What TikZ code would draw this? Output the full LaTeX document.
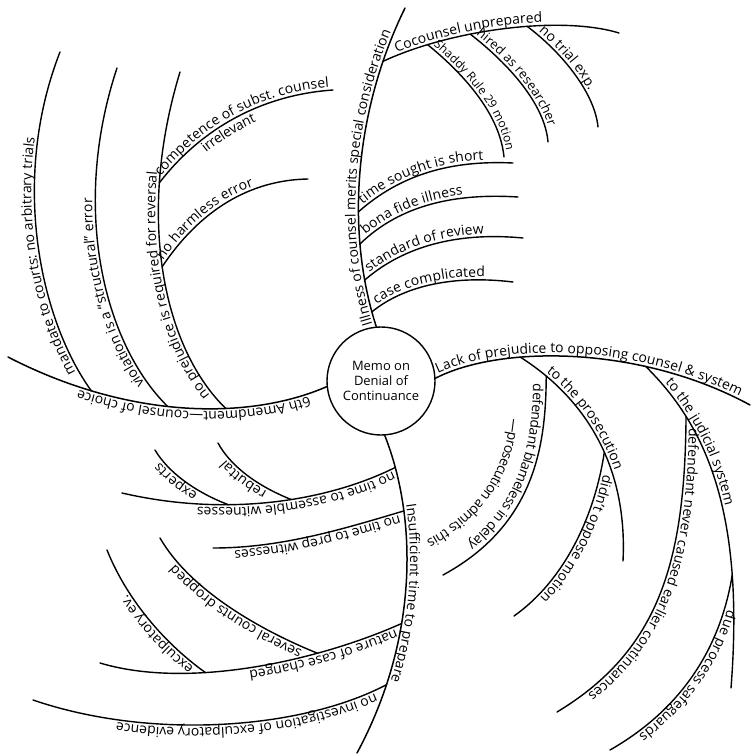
\documentclass[tikz,border=0pt]{standalone}
\usepackage{fontspec}
\setmainfont{Open Sans}
\usetikzlibrary{decorations.text}

\tikzset{
  limb/.style={line width=1.5bp, line cap=round},
  twig/.style={line width=1.4bp, line cap=round},
  say/.style={postaction={decorate, decoration={text along path, text={#1}}}},
  lift/.style={decoration={raise=#1}},
  lead/.style={decoration={text align={left indent=#1}}},
}

\begin{document}
\begin{tikzpicture}[x=1bp, y=-1bp, decoration={raise=3pt}]
\fontsize{14}{16}\selectfont
\useasboundingbox (0,0) rectangle (752,756);

% centre
\node[circle, draw, line width=1.4bp, minimum size=108bp, inner sep=0pt, align=center, font=\fontsize{13}{15}\selectfont] (memo) at (381,381) {Memo on\\Denial of\\Continuance};

% illness of counsel
\draw[limb, lead=3pt, say={Illness of counsel merits special consideration}]
  (memo.95) .. controls (345,230) and (355,110) .. (405,8)
  coordinate[pos=.05] (ill-case) coordinate[pos=.155] (ill-std)
  coordinate[pos=.27] (ill-bona) coordinate[pos=.37] (ill-time)
  coordinate[pos=.83] (ill-co);
\draw[twig, lead=16pt, say={Cocounsel unprepared}]
  (ill-co) .. controls (450,30) and (560,15) .. (619,33)
  coordinate[pos=.2] (co-shad) coordinate[pos=.37] (co-hire) coordinate[pos=.59] (co-exp);
\draw[twig, lead=5pt, say={|\fontsize{12}{14}\selectfont|Shaddy Rule 29 motion}] (co-shad) .. controls (465,75) and (500,115) .. (504,157);
\draw[twig, lead=5pt, say={|\fontsize{13}{15}\selectfont|hired as researcher}] (co-hire) .. controls (510,65) and (545,105) .. (548,142);
\draw[twig, lead=12pt, say={no trial exp.}] (co-exp) .. controls (565,55) and (595,95) .. (598,127);
\draw[twig, lead=8pt, say={time sought is short}] (ill-time) .. controls (400,175) and (450,160) .. (513,163);
\draw[twig, lead=10pt, say={bona fide illness}] (ill-bona) .. controls (400,205) and (455,193) .. (518,197);
\draw[twig, lead=8pt, say={standard of review}] (ill-std) .. controls (405,245) and (460,232) .. (523,238);
\draw[twig, lead=8pt, say={case complicated}] (ill-case) .. controls (405,285) and (455,275) .. (513,282);

% lack of prejudice
\draw[limb, lead=4pt, say={Lack of prejudice to opposing counsel {\&} system}]
  (memo.3) .. controls (500,345) and (640,345) .. (750,405)
  coordinate[pos=.33] (lack-pro) coordinate[pos=.7] (lack-jud);
\draw[twig, lead=30pt, say={to the prosecution}]
  (lack-pro) .. controls (580,395) and (628,460) .. (623,561)
  coordinate[pos=.15] (pro-def) coordinate[pos=.58] (pro-opp);
\draw[twig, lift=-13pt, lead=8pt, say={defendant blameless in delay}] (pro-def) .. controls (546,445) and (535,525) .. (443,575);
\path[lift=-13pt, lead=40pt, say={—prosecution admits this}] (524,380) .. controls (526,445) and (513,510) .. (428,554);
\draw[twig, lead=22pt, say={didn't oppose motion}] (pro-opp) .. controls (595,515) and (565,580) .. (514,616);
\draw[twig, lead=25pt, say={to the judicial system}]
  (lack-jud) .. controls (705,425) and (745,510) .. (731,688)
  coordinate[pos=.25] (jud-nev) coordinate[pos=.76] (jud-due);
\draw[twig, lead=12pt, say={defendant never caused earlier continuances}] (jud-nev) .. controls (685,560) and (660,650) .. (557,712);
\draw[twig, lead=35pt, say={due process safeguards}] (jud-due) .. controls (720,650) and (680,710) .. (610,750);

% 6th amendment
\draw[limb, lead=20pt, say={6th Amendment—counsel of choice}]
  (memo.186) .. controls (250,420) and (130,420) .. (8,357)
  coordinate[pos=.37] (six-pre) coordinate[pos=.55] (six-vio) coordinate[pos=.77] (six-man);
\draw[twig, lead=24pt, say={mandate to courts: no arbitrary trials}] (six-man) .. controls (40,320) and (10,180) .. (60,52);
\draw[twig, lead=32pt, say={violation is a “structural” error}] (six-vio) .. controls (105,345) and (70,210) .. (117,68);
\draw[twig, lead=20pt, say={no prejudice is required for reversal}]
  (six-pre) .. controls (165,350) and (135,220) .. (180,72)
  coordinate[pos=.52] (pre-harm) coordinate[pos=.74] (pre-comp);
\draw[twig, lead=6pt, say={competence of subst. counsel}] (pre-comp) .. controls (200,130) and (260,95) .. (333,90);
\path[lift=-13pt, lead=56pt, say={irrelevant}] (pre-comp) .. controls (200,130) and (260,95) .. (333,90);
\draw[twig, lead=6pt, say={no harmless error}] (pre-harm) .. controls (200,210) and (250,180) .. (308,179);

% insufficient time
\draw[limb, lead=72pt, say={Insufficient time to prepare}]
  (memo.274) .. controls (418,520) and (418,640) .. (357,753)
  coordinate[pos=.12] (ins-ass) coordinate[pos=.27] (ins-prep)
  coordinate[pos=.62] (ins-nat) coordinate[pos=.8] (ins-inv);
\draw[twig, lead=4pt, say={no time to assemble witnesses}]
  (ins-ass) .. controls (330,500) and (230,518) .. (122,493)
  coordinate[pos=.44] (ass-reb) coordinate[pos=.66] (ass-exp);
\draw[twig, lead=25pt, say={rebuttal}] (ass-reb) .. controls (255,485) and (230,465) .. (218,443);
\draw[twig, lead=32pt, say={experts}] (ass-exp) .. controls (195,492) and (168,472) .. (155,450);
\draw[twig, lead=6pt, say={no time to prep witnesses}] (ins-prep) .. controls (340,530) and (280,548) .. (213,548);
\draw[twig, lead=8pt, say={nature of case changed}]
  (ins-nat) .. controls (320,660) and (190,690) .. (100,663)
  coordinate[pos=.3] (nat-sev) coordinate[pos=.65] (nat-exc);
\draw[twig, lead=15pt, say={several counts dropped}] (nat-sev) .. controls (260,630) and (190,590) .. (160,538);
\draw[twig, lead=12pt, say={exculpatory ev.}] (nat-exc) .. controls (160,640) and (125,595) .. (107,550);
\draw[twig, lead=14pt, say={no investigation of exculpatory evidence}] (ins-inv) .. controls (300,730) and (150,740) .. (33,700);

\end{tikzpicture}
\end{document}
